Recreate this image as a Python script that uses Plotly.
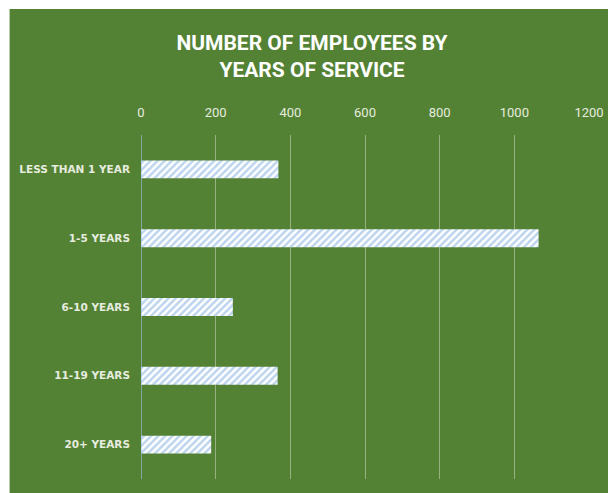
import plotly.graph_objects as go

categories = ["LESS THAN 1 YEAR", "1-5 YEARS", "6-10 YEARS", "11-19 YEARS", "20+ YEARS"]
employees = [368, 1065, 246, 366, 188]
tick_values = [0, 200, 400, 600, 800, 1000, 1200]
tick_labels = ["0", "200", "400", "600", "800", "1000", "1200"]

W, H = 616, 501
L, R, T, B = 141, 25, 135, 22
pw, ph = W - L - R, H - T - B

def px_x(px):
    return (px - L) / pw

def px_y(py):
    return (H - B - py) / ph

GREEN = "#548235"

fig = go.Figure()
fig.add_trace(go.Bar(
    y=categories,
    x=employees,
    orientation="h",
    marker=dict(
        color="white",
        line=dict(width=0),
        pattern=dict(shape="/", bgcolor="white", fgcolor="#7aaade", size=5, solidity=0.5),
    ),
    hoverinfo="x+y",
))

fig.update_layout(
    width=W, height=H,
    margin=dict(l=L, r=R, t=T, b=B),
    paper_bgcolor=GREEN,
    plot_bgcolor="rgba(0,0,0,0)",
    bargap=0.74,
    showlegend=False,
    title=dict(
        text="<b>NUMBER OF EMPLOYEES BY<br>YEARS OF SERVICE</b>",
        x=312 / W, xanchor="center",
        y=1 - 49.5 / H, yanchor="middle",
        font=dict(family="Roboto, Lato, sans-serif", size=21, color="white"),
    ),
    xaxis=dict(
        side="top",
        range=[0, 1200],
        tickvals=tick_values,
        ticktext=tick_labels,
        showgrid=True,
        gridcolor="rgba(215,225,205,0.5)",
        gridwidth=1,
        zeroline=False,
        showline=False,
        ticks="",
        ticklabelstandoff=14,
        tickfont=dict(family="Roboto, sans-serif", size=13, color="#e6ecdf"),
    ),
    yaxis=dict(
        autorange="reversed",
        showgrid=False,
        zeroline=False,
        showline=False,
        ticks="",
        ticklabelstandoff=10,
        tickfont=dict(family="DejaVu Sans, sans-serif", size=10.5, color="#e6ecdf", weight="bold"),
    ),
    shapes=[
        dict(type="rect", xref="paper", yref="paper", layer="below",
             x0=px_x(-5), x1=px_x(9), y0=px_y(H + 5), y1=px_y(-5),
             fillcolor="white", line=dict(width=0)),
        dict(type="rect", xref="paper", yref="paper", layer="below",
             x0=px_x(-5), x1=px_x(W + 5), y0=px_y(9), y1=px_y(-5),
             fillcolor="white", line=dict(width=0)),
        dict(type="line", xref="x", yref="paper", layer="above",
             x0=0, x1=0, y0=0, y1=1,
             line=dict(color="#9dc3e6", width=1.2)),
    ],
)

fig.write_html(
    "out.html",
    config={"responsive": False, "displayModeBar": False},
    post_script=(
        "document.body.style.margin='0';"
        "document.body.style.overflow='hidden';"
        "document.body.style.background='" + GREEN + "';"
        "document.documentElement.style.background='" + GREEN + "';"
    ),
)
